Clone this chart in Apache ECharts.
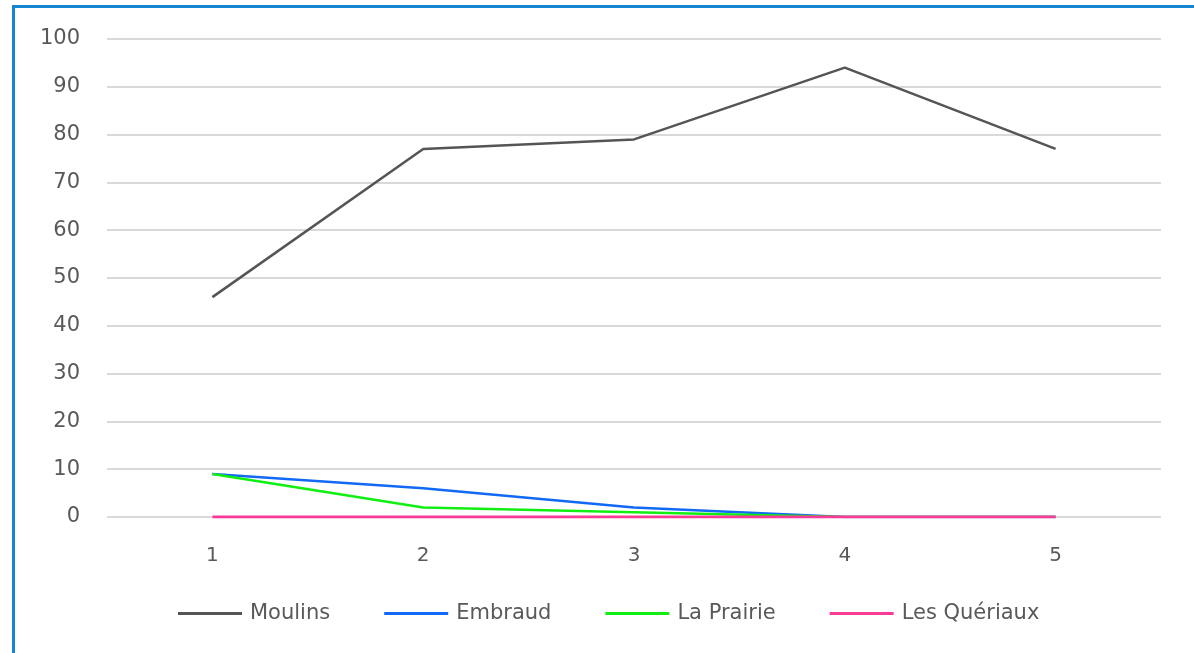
<!DOCTYPE html>
<html><head><meta charset="utf-8">
<script src="https://cdn.jsdelivr.net/npm/echarts@6/dist/echarts.min.js"></script>
<style>
html,body{margin:0;padding:0;background:#fff;overflow:hidden;}
#frame{position:absolute;left:12px;top:5px;width:1300px;height:800px;border-left:3px solid #1385d1;border-top:3px solid #1385d1;}
#c{position:absolute;left:0;top:0;width:1194px;height:653px;}
</style></head>
<body>
<div id="frame"></div>
<div id="c"></div>
<script>
const categories = ['1','2','3','4','5'];
const moulins = [46, 77, 79, 94, 77];
const embraud = [9, 6, 2, 0, 0];
const laPrairie = [9, 2, 1, 0, 0];
const lesQueriaux = [0, 0, 0, 0, 0];
const seriesNames = ['Moulins','Embraud','La Prairie','Les Quériaux'];
const colors = ['#555555','#1269f5','#11ee11','#f93a96'];

const chart = echarts.init(document.getElementById('c'));
const dataSets = [moulins, embraud, laPrairie, lesQueriaux];
chart.setOption({
  animation:false,
  color: colors,
  grid:{left:107,right:33,top:39,bottom:136,containLabel:false},
  legend:{
    bottom:29, left:178, padding:0,
    itemWidth:64, itemHeight:3, itemGap:54,
    icon:'rect',
    textStyle:{color:'#595959',fontSize:21,fontFamily:'DejaVu Sans, sans-serif',padding:[0,0,0,3]},
    data: seriesNames
  },
  xAxis:{
    type:'category', data:categories, boundaryGap:true,
    axisLine:{show:false}, axisTick:{show:false},
    axisLabel:{color:'#595959',fontSize:20,margin:29,fontFamily:'DejaVu Sans, sans-serif'}
  },
  yAxis:{
    type:'value', min:0, max:100, interval:10,
    axisLine:{show:false}, axisTick:{show:false},
    axisLabel:{color:'#595959',fontSize:21,margin:27,fontFamily:'DejaVu Sans, sans-serif'},
    splitLine:{lineStyle:{color:'#d9d9d9',width:2}}
  },
  series: seriesNames.map((n,i)=>({
    name:n, type:'line', data:dataSets[i], showSymbol:false, symbol:'none',
    lineStyle:{width:i===3?3:2.5,color:colors[i]}, itemStyle:{color:colors[i]}
  }))
});
</script>
</body></html>
